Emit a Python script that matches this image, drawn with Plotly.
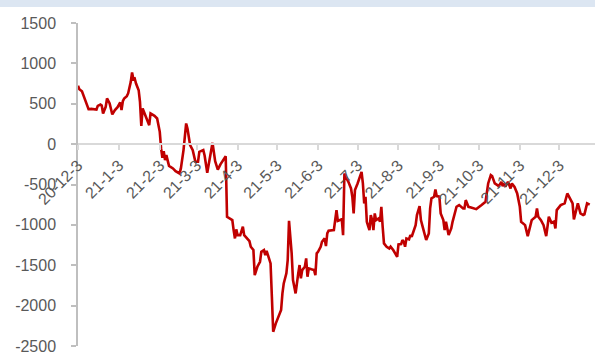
import plotly.graph_objects as go

dates = [
    "2020-12-03", "2020-12-04", "2020-12-06", "2020-12-08", "2020-12-09", "2020-12-10", "2020-12-11",
    "2020-12-13", "2020-12-16", "2020-12-17", "2020-12-18", "2020-12-20", "2020-12-21", "2020-12-22",
    "2020-12-24", "2020-12-25", "2020-12-27", "2020-12-29", "2020-12-31", "2021-01-02", "2021-01-04",
    "2021-01-05", "2021-01-06", "2021-01-07", "2021-01-09", "2021-01-10", "2021-01-12", "2021-01-13",
    "2021-01-14", "2021-01-15", "2021-01-16", "2021-01-18", "2021-01-19", "2021-01-20", "2021-01-21",
    "2021-01-22", "2021-01-24", "2021-01-26", "2021-01-27", "2021-01-30", "2021-02-01", "2021-02-03",
    "2021-02-04", "2021-02-05", "2021-02-06", "2021-02-07", "2021-02-08", "2021-02-10", "2021-02-13",
    "2021-02-15", "2021-02-18", "2021-02-19", "2021-02-21", "2021-02-22", "2021-02-23", "2021-02-24",
    "2021-02-26", "2021-02-28", "2021-03-02", "2021-03-04", "2021-03-05", "2021-03-08", "2021-03-09",
    "2021-03-11", "2021-03-13", "2021-03-15", "2021-03-17", "2021-03-19", "2021-03-21", "2021-03-23",
    "2021-03-25", "2021-03-26", "2021-03-28", "2021-03-30", "2021-03-31", "2021-04-01", "2021-04-02",
    "2021-04-03", "2021-04-05", "2021-04-07", "2021-04-08", "2021-04-10", "2021-04-12", "2021-04-13",
    "2021-04-15", "2021-04-16", "2021-04-18", "2021-04-20", "2021-04-21", "2021-04-23", "2021-04-24",
    "2021-04-25", "2021-04-27", "2021-04-28", "2021-04-29", "2021-04-30", "2021-05-02", "2021-05-04",
    "2021-05-06", "2021-05-07", "2021-05-08", "2021-05-10", "2021-05-11", "2021-05-12", "2021-05-14",
    "2021-05-15", "2021-05-17", "2021-05-19", "2021-05-20", "2021-05-21", "2021-05-22", "2021-05-24",
    "2021-05-25", "2021-05-26", "2021-05-27", "2021-05-29", "2021-05-31", "2021-06-01", "2021-06-02",
    "2021-06-03", "2021-06-05", "2021-06-06", "2021-06-08", "2021-06-09", "2021-06-10", "2021-06-11",
    "2021-06-14", "2021-06-15", "2021-06-16", "2021-06-17", "2021-06-18", "2021-06-20", "2021-06-21",
    "2021-06-22", "2021-06-23", "2021-06-24", "2021-06-26", "2021-06-28", "2021-06-29", "2021-06-30",
    "2021-07-01", "2021-07-03", "2021-07-06", "2021-07-07", "2021-07-08", "2021-07-09", "2021-07-10",
    "2021-07-11", "2021-07-12", "2021-07-13", "2021-07-14", "2021-07-15", "2021-07-16", "2021-07-17",
    "2021-07-19", "2021-07-20", "2021-07-21", "2021-07-22", "2021-07-23", "2021-07-25", "2021-07-26",
    "2021-07-27", "2021-07-28", "2021-07-30", "2021-08-02", "2021-08-03", "2021-08-05", "2021-08-06",
    "2021-08-07", "2021-08-08", "2021-08-09", "2021-08-11", "2021-08-12", "2021-08-13", "2021-08-16",
    "2021-08-17", "2021-08-19", "2021-08-20", "2021-08-22", "2021-08-24", "2021-08-26", "2021-08-27",
    "2021-08-28", "2021-08-30", "2021-08-31", "2021-09-01", "2021-09-03", "2021-09-04", "2021-09-06",
    "2021-09-07", "2021-09-08", "2021-09-10", "2021-09-12", "2021-09-13", "2021-09-16", "2021-09-18",
    "2021-09-21", "2021-09-22", "2021-09-23", "2021-09-25", "2021-09-27", "2021-10-01", "2021-10-05",
    "2021-10-08", "2021-10-10", "2021-10-12", "2021-10-13", "2021-10-15", "2021-10-17", "2021-10-18",
    "2021-10-20", "2021-10-21", "2021-10-22", "2021-10-23", "2021-10-25", "2021-10-27", "2021-10-28",
    "2021-10-30", "2021-11-01", "2021-11-03", "2021-11-04", "2021-11-06", "2021-11-07", "2021-11-09",
    "2021-11-11", "2021-11-12", "2021-11-15", "2021-11-16", "2021-11-17", "2021-11-19", "2021-11-21",
    "2021-11-23", "2021-11-25", "2021-11-26", "2021-11-27", "2021-11-29", "2021-11-30", "2021-12-01",
    "2021-12-02", "2021-12-04", "2021-12-07", "2021-12-09", "2021-12-11", "2021-12-13", "2021-12-14",
    "2021-12-16", "2021-12-17", "2021-12-19", "2021-12-21", "2021-12-22", "2021-12-24", "2021-12-26",
]

values = [
    722, 681, 656, 566, 545, 491, 433,
    437, 437, 429, 474, 491, 479, 380,
    462, 566, 504, 368, 421, 458, 516,
    421, 532, 566, 594, 628, 771, 887,
    805, 813, 751, 668, 524, 227, 442,
    400, 338, 235, 380, 350, 318, 152,
    -53, -170, -87, -198, -136, -269, -301,
    -334, -363, -301, -74, 90, 256, 194,
    -12, -74, -219, -219, -95, -74, -140,
    -355, -157, 16, -210, -315, -250, -198,
    -150, -900, -920, -941, -1065, -1168, -1056,
    -1127, -1127, -1023, -1127, -1168, -1201, -1271,
    -1312, -1622, -1519, -1457, -1333, -1312, -1374,
    -1321, -1415, -1477, -1890, -2324, -2220, -2138,
    -2055, -1849, -1725, -1601, -1436, -950, -1353,
    -1684, -1849, -1601, -1498, -1663, -1560, -1519,
    -1415, -1643, -1539, -1550, -1560, -1622, -1353,
    -1333, -1271, -1209, -1168, -1263, -1106, -1073,
    -1065, -1065, -941, -817, -950, -941, -930,
    -1127, -363, -405, -467, -549, -652, -858,
    -569, -487, -343, -487, -734, -652, -962,
    -1015, -1065, -879, -941, -1065, -858, -941,
    -920, -960, -776, -1023, -1230, -1271, -1280,
    -1292, -1270, -1312, -1395, -1242, -1238, -1188,
    -1209, -1271, -1168, -1180, -1127, -1147, -1003,
    -879, -768, -941, -1065, -1188, -1106, -796,
    -672, -652, -561, -644, -650, -858, -941,
    -1065, -962, -1127, -1044, -962, -776, -755,
    -796, -796, -693, -776, -784, -805, -755,
    -714, -487, -384, -396, -487, -508, -520,
    -467, -520, -487, -528, -467, -549, -487,
    -530, -611, -776, -962, -990, -1003, -1139,
    -1023, -941, -900, -796, -900, -941, -1003,
    -1139, -900, -941, -974, -960, -1044, -817,
    -800, -755, -734, -611, -672, -734, -933,
    -796, -734, -858, -879, -870, -734, -750,
]

tick_dates = ["2020-12-03", "2021-01-03", "2021-02-03", "2021-03-03", "2021-04-03", "2021-05-03",
              "2021-06-03", "2021-07-03", "2021-08-03", "2021-09-03", "2021-10-03", "2021-11-03",
              "2021-12-03"]
tick_labels = ["20-12-3", "21-1-3", "21-2-3", "21-3-3", "21-4-3", "21-5-3", "21-6-3",
               "21-7-3", "21-8-3", "21-9-3", "21-10-3", "21-11-3", "21-12-3"]

y_ticks = [1500, 1000, 500, 0, -500, -1000, -1500, -2000, -2500]
y_labels = ["1500", "1000", "500", "0", "-500", "-1000", "-1500", "-2000", "-2500"]

y_min, y_max = -2500, 1500

fig = go.Figure()
fig.add_trace(go.Scatter(x=dates, y=values, mode="lines",
                         line=dict(color="#C00000", width=2.6), showlegend=False))

W, H = 595, 354
mt, mb, ml, mr = 23, 8, 78, 0
ph = H - mt - mb

fig.update_layout(
    width=W, height=H,
    margin=dict(l=ml, r=mr, t=mt, b=mb),
    paper_bgcolor="white", plot_bgcolor="white",
    font=dict(family="Liberation Sans", size=16, color="#595959"),
    xaxis=dict(
        type="date",
        range=["2020-12-03", "2021-12-30"],
        tickvals=tick_dates, ticktext=tick_labels,
        tickangle=-45,
        anchor="free", position=(0 - y_min) / (y_max - y_min),
        showline=True, linecolor="#D9D9D9", linewidth=1.5,
        ticks="outside", ticklen=5, tickcolor="#D9D9D9", tickwidth=1.5,
        showgrid=False, zeroline=False,
        tickfont=dict(size=16, color="#595959"),
    ),
    yaxis=dict(
        range=[y_min - 0.5, y_max + 0.5],
        tickvals=y_ticks, ticktext=y_labels,
        showline=True, linecolor="#BFBFBF", linewidth=1.5,
        ticks="outside", ticklen=5, tickcolor="#BFBFBF", tickwidth=1.5,
        showgrid=False, zeroline=False,
        ticklabelstandoff=12,
        ticklabeloverflow="allow",
        tickfont=dict(size=16, color="#595959"),
    ),
    shapes=[dict(type="rect", xref="paper", yref="paper",
                 x0=-ml / (W - ml - mr), x1=1.0,
                 y0=1 + (mt - 7) / ph, y1=1 + mt / ph,
                 fillcolor="#DCE6F2", line=dict(width=0), layer="below")],
)

fig.write_html("out.html", config={"displayModeBar": False})
